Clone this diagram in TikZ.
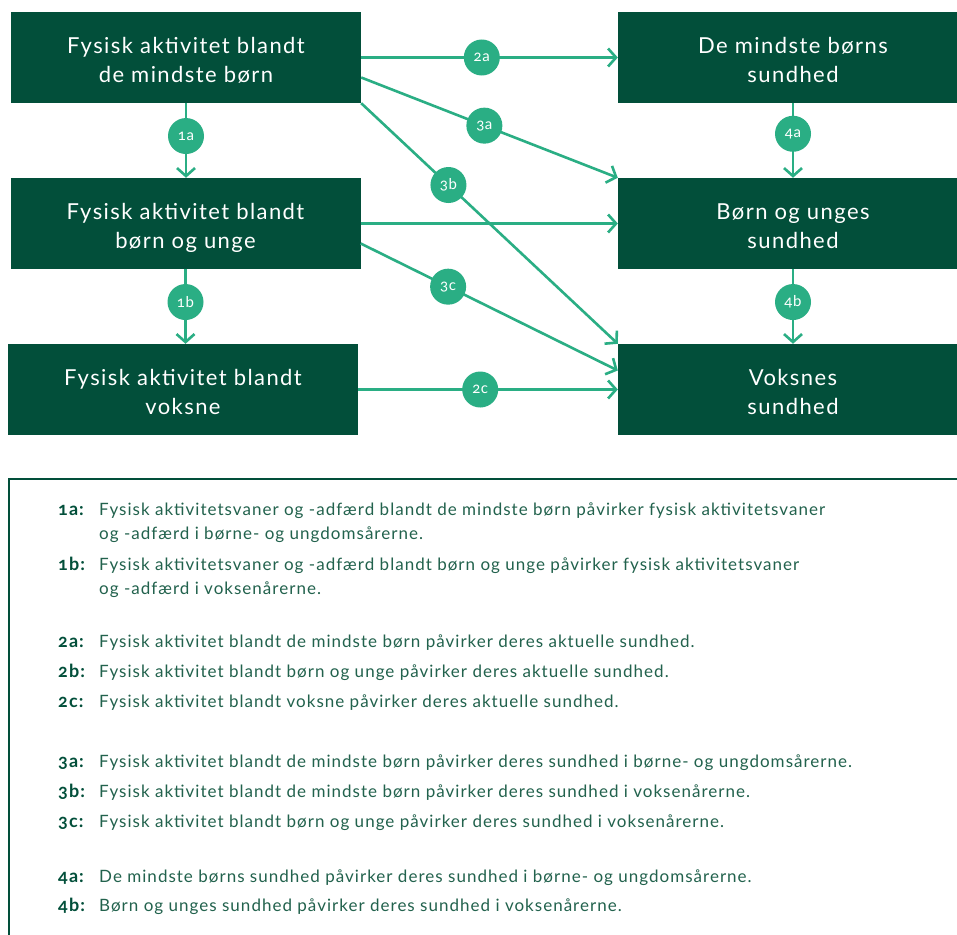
\documentclass[tikz,border=0pt]{standalone}
\usepackage{fontspec}
\setmainfont{Lato}
\newfontfamily\numfont[Numbers=OldStyle]{Lato}
\usetikzlibrary{arrows.meta}
\usetikzlibrary{positioning}
\definecolor{DarkGreen}{HTML}{024F3A}
\definecolor{MintGreen}{HTML}{2AAE84}
\definecolor{TextGreen}{HTML}{22624D}

\tikzset{
  box/.style={fill=DarkGreen, text=white, minimum width=350pt, minimum height=91pt,
    inner sep=0pt, text height=50pt, text depth=0pt, align=center,
    font=\fontsize{22}{29}\selectfont\addfontfeatures{LetterSpace=6.5}},
  link/.style={draw=MintGreen, line width=2.6pt,
    -{Straight Barb[length=8pt,width=18pt,line width=2.6pt]}},
  badge/.style={circle, fill=MintGreen, text=white, minimum size=36pt, inner sep=0pt,
    font=\numfont\fontsize{15}{15}\selectfont\addfontfeatures{LetterSpace=4}},
  key/.style={anchor=base west, inner sep=0pt, text=DarkGreen,
    font=\numfont\bfseries\fontsize{18}{24}\selectfont\addfontfeatures{LetterSpace=6}},
  desc/.style={anchor=base west, inner sep=0pt, text=TextGreen,
    font=\fontsize{17}{24}\selectfont\addfontfeatures{LetterSpace=6}},
}

\begin{document}
\begin{tikzpicture}[x=1pt,y=-1pt]
    \useasboundingbox (0,0) rectangle (957,934);
    \fill[white] (0,0) rectangle (957,934);
    \clip (0,0) rectangle (957,934);

    \node[box] (b1) at (186,57.5) {Fysisk aktivitet blandt\\de mindste børn};
    \node[box] (b2) at (185.5,223.5) {Fysisk aktivitet blandt\\børn og unge};
    \node[box] (b3) at (183,389.5) {Fysisk aktivitet blandt\\voksne};
    \node[box] (r1) at (793,57.5) {De mindste børns\\sundhed};
    \node[box] (r2) at (793,223.5) {Børn og unges\\sundhed};
    \node[box] (r3) at (793,389.5) {Voksnes\\sundhed};

    \draw[link] (b1.south) -- node[badge,pos=0.44] (c1a) {1a} (b1.south |- b2.north);
    \draw[link] (b2.south) -- node[badge,pos=0.44] (c1b) {1b} (b2.south |- b3.north);
    \draw[link] (b1.east) -- node[badge,pos=0.47] (c2a) {2a} (r1.west);
    \draw[link] (b2.east) -- (r2.west);
    \draw[link] (b3.east) -- node[badge,pos=0.47] (c2c) {2c} (r3.west);
    \draw[link] ([yshift=-20pt]b1.east) -- node[badge,pos=0.48] (c3a) {3a} (r2.north west);
    \draw[link] (b1.south east) -- node[badge,pos=0.34] (c3b) {3b} (r3.north west);
    \draw[link] ([yshift=-20pt]b2.east) -- node[badge,pos=0.34] (c3c) {3c} ([yshift=19pt]r3.west);
    \draw[link] (r1.south) -- node[badge,pos=0.41] (c4a) {4a} (r2.north);
    \draw[link] (r2.south) -- node[badge,pos=0.44] (c4b) {4b} (r3.north);

    \draw[DarkGreen, line width=2pt] (9,990) |- (990,479);

    \node[key] (k1a) at (58,515) {1a:};
    \node[desc] (t1a) at (99,515) {Fysisk aktivitetsvaner og -adfærd blandt de mindste børn påvirker fysisk aktivitetsvaner};
    \node[desc] (u1a) at (99,539) {og -adfærd i børne- og ungdomsårerne.};
    \node[key] (k1b) at (58,570) {1b:};
    \node[desc] (t1b) at (99,570) {Fysisk aktivitetsvaner og -adfærd blandt børn og unge påvirker fysisk aktivitetsvaner};
    \node[desc] (u1b) at (99,594) {og -adfærd i voksenårerne.};

    \foreach \y/\k/\t in {
        647/2a/{Fysisk aktivitet blandt de mindste børn påvirker deres aktuelle sundhed.},
        677/2b/{Fysisk aktivitet blandt børn og unge påvirker deres aktuelle sundhed.},
        707/2c/{Fysisk aktivitet blandt voksne påvirker deres aktuelle sundhed.},
        767/3a/{Fysisk aktivitet blandt de mindste børn påvirker deres sundhed i børne- og ungdomsårerne.},
        797/3b/{Fysisk aktivitet blandt de mindste børn påvirker deres sundhed i voksenårerne.},
        827/3c/{Fysisk aktivitet blandt børn og unge påvirker deres sundhed i voksenårerne.},
        882/4a/{De mindste børns sundhed påvirker deres sundhed i børne- og ungdomsårerne.},
        911/4b/{Børn og unges sundhed påvirker deres sundhed i voksenårerne.}}
    {
        \node[key] (k\k) at (58,\y) {\k:};
        \node[desc] (t\k) at (99,\y) {\t};
    }
\end{tikzpicture}
\end{document}
